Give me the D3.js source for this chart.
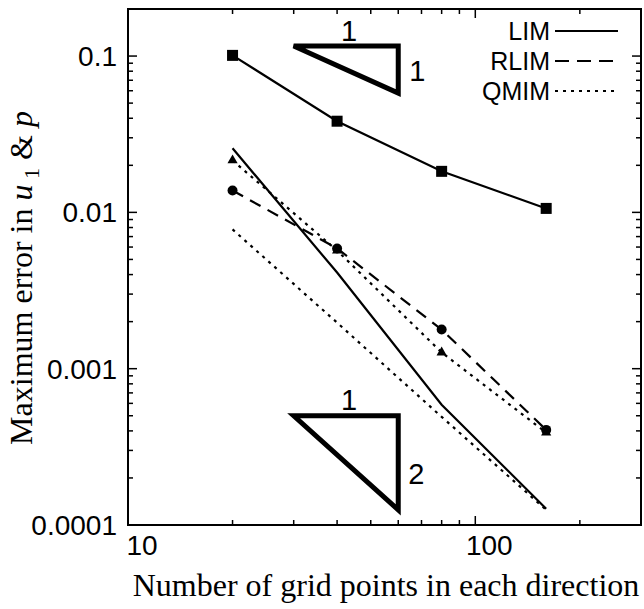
<!DOCTYPE html>
<html lang="en">
<head>
	<meta charset="UTF-8">
	<title>Maximum error convergence</title>
	<script src="https://d3js.org/d3.v7.min.js"></script>
	<style>
		body, html {
			margin: 0;
			padding: 0;
			background: #fff;
			overflow: hidden;
		}
		svg {
			display: block;
		}
		.tick-label {
			font-family: "Liberation Sans", Arial, sans-serif;
			font-size: 28px;
			fill: #000;
		}
		.legend-label {
			font-family: "Liberation Sans", Arial, sans-serif;
			font-size: 25px;
			fill: #000;
			text-anchor: end;
		}
		.slope-label {
			font-family: "Liberation Sans", Arial, sans-serif;
			font-size: 29px;
			fill: #000;
			text-anchor: middle;
		}
		.axis-title {
			font-family: "Liberation Serif", "Times New Roman", serif;
			font-size: 32px;
			fill: #000;
			text-anchor: middle;
		}
	</style>
</head>
<body>
<div id="chart"></div>
	<script>
		// grid sizes and measured errors
		const gridPoints = [20, 40, 80, 160];
		const squareErr = [0.101, 0.0383, 0.0183, 0.0106];
		const limErr = [0.0257, 0.00412, 0.000588, 0.000127];
		const rlimErr = [0.0138, 0.00588, 0.00178, 0.000406];
		const qmimErr = [0.0215, 0.0057, 0.00127, 0.00039];
		const lowerErr = [0.00778, 0.00197, 0.000492, 0.000125];

		const xTickValues = [10, 100];
		const yTickValues = [0.0001, 0.001, 0.01, 0.1];
		const yTickLabels = ["0.0001", "0.001", "0.01", "0.1"];

		// slope triangles: [x0, x1], [yTop, yBottom]
		const slope1 = { xs: [30, 60], ys: [0.116, 0.058], run: "1", rise: "1" };
		const slope2 = { xs: [30, 60], ys: [0.0005, 0.000125], run: "1", rise: "2" };

		const legendNames = ["LIM", "RLIM", "QMIM"];

		const width = 644;
		const height = 609;
		const pLeft = 128, pRight = 641, pTop = 9, pBottom = 525;

		const svg = d3.select("#chart")
			.append("svg")
			.attr("width", width)
			.attr("height", height);

		const x = d3.scaleLog().domain([10, 300]).range([pLeft, pRight]);
		const y = d3.scaleLog().domain([0.0001, 0.2]).range([pBottom, pTop]);

		// minor tick values
		const xMinor = [];
		for (let d = 10; d < 300; d *= 10) {
			for (let k = 2; k <= 9; k++) if (d * k <= 300) xMinor.push(d * k);
		}
		const yMinor = [];
		for (let d = 0.0001; d < 0.2; d *= 10) {
			for (let k = 2; k <= 9; k++) if (d * k <= 0.2) yMinor.push(d * k);
		}

		const ticks = svg.append("g").attr("stroke", "#000").attr("stroke-width", 1.5);
		function drawXTicks(vals, len) {
			vals.forEach(v => {
				ticks.append("line").attr("x1", x(v)).attr("x2", x(v)).attr("y1", pBottom).attr("y2", pBottom - len);
				ticks.append("line").attr("x1", x(v)).attr("x2", x(v)).attr("y1", pTop).attr("y2", pTop + len);
			});
		}
		function drawYTicks(vals, len) {
			vals.forEach(v => {
				ticks.append("line").attr("y1", y(v)).attr("y2", y(v)).attr("x1", pLeft).attr("x2", pLeft + len);
				ticks.append("line").attr("y1", y(v)).attr("y2", y(v)).attr("x1", pRight).attr("x2", pRight - len);
			});
		}
		drawXTicks(xTickValues, 9);
		drawXTicks(xMinor, 5);
		drawYTicks(yTickValues, 9);
		drawYTicks(yMinor, 5);

		// frame
		svg.append("rect")
			.attr("x", pLeft).attr("y", pTop)
			.attr("width", pRight - pLeft).attr("height", pBottom - pTop)
			.attr("fill", "none").attr("stroke", "#000").attr("stroke-width", 2);

		// tick labels
		svg.selectAll(".xlab")
			.data(xTickValues)
			.enter()
			.append("text")
			.attr("class", "tick-label")
			.attr("x", d => x(d) + 14)
			.attr("y", pBottom + 30)
			.attr("text-anchor", "middle")
			.text(d => d);

		svg.selectAll(".ylab")
			.data(yTickValues)
			.enter()
			.append("text")
			.attr("class", "tick-label")
			.attr("x", pLeft - 11)
			.attr("y", d => y(d) + 10)
			.attr("text-anchor", "end")
			.text((d, i) => yTickLabels[i]);

		// axis titles
		svg.append("text")
			.attr("class", "axis-title")
			.attr("x", 386)
			.attr("y", 596)
			.text("Number of grid points in each direction");

		const yt = svg.append("text")
			.attr("class", "axis-title")
			.attr("transform", "translate(32,278) rotate(-90)");
		yt.append("tspan").text("Maximum error in ");
		yt.append("tspan").attr("font-style", "italic").text("u");
		yt.append("tspan").attr("font-size", "22px").attr("dy", 7).text(" 1");
		yt.append("tspan").attr("dy", -7).text(" & ");
		yt.append("tspan").attr("font-style", "italic").text("p");

		// series lines
		const line = d3.line()
			.x((d, i) => x(gridPoints[i]))
			.y(d => y(d));

		const series = [
			{ vals: squareErr, dash: null },
			{ vals: limErr, dash: null },
			{ vals: rlimErr, dash: "12,8" },
			{ vals: qmimErr, dash: "3,5" },
			{ vals: lowerErr, dash: "3,5" }
		];

		svg.selectAll(".series")
			.data(series)
			.enter()
			.append("path")
			.attr("class", "series")
			.attr("d", d => line(d.vals))
			.attr("fill", "none")
			.attr("stroke", "#000")
			.attr("stroke-width", 2.2)
			.attr("stroke-dasharray", d => d.dash);

		// markers
		svg.selectAll(".sq")
			.data(squareErr)
			.enter()
			.append("rect")
			.attr("x", (d, i) => x(gridPoints[i]) - 5.5)
			.attr("y", d => y(d) - 5.5)
			.attr("width", 11).attr("height", 11)
			.attr("fill", "#000");

		svg.selectAll(".circ")
			.data(rlimErr)
			.enter()
			.append("circle")
			.attr("cx", (d, i) => x(gridPoints[i]))
			.attr("cy", d => y(d))
			.attr("r", 5)
			.attr("fill", "#000");

		const tri = d3.symbol().type(d3.symbolTriangle).size(45);
		svg.selectAll(".tri")
			.data(qmimErr)
			.enter()
			.append("path")
			.attr("d", tri)
			.attr("transform", (d, i) => `translate(${x(gridPoints[i])},${y(d)})`)
			.attr("fill", "#000");

		// slope triangles
		function drawSlope(s, runY, riseDx, riseY) {
			const x0 = x(s.xs[0]), x1 = x(s.xs[1]);
			const yt0 = y(s.ys[0]), yb = y(s.ys[1]);
			svg.append("path")
				.attr("d", `M${x0},${yt0}L${x1},${yt0}L${x1},${yb}Z`)
				.attr("fill", "none")
				.attr("stroke", "#000")
				.attr("stroke-width", 5)
				.attr("stroke-linejoin", "miter");
			svg.append("text")
				.attr("class", "slope-label")
				.attr("x", (x0 + x1) / 2 + 3)
				.attr("y", yt0 + runY)
				.text(s.run);
			svg.append("text")
				.attr("class", "slope-label")
				.attr("x", x1 + riseDx)
				.attr("y", (yt0 + yb) / 2 + riseY)
				.text(s.rise);
		}
		drawSlope(slope1, -5, 19, 11);
		drawSlope(slope2, -6, 18, 21);

		// legend
		const legendDash = [null, "14,8", "3,5"];
		legendNames.forEach((name, i) => {
			const ly = 31 + i * 30;
			svg.append("text")
				.attr("class", "legend-label")
				.attr("x", 550)
				.attr("y", ly + 9)
				.text(name);
			svg.append("line")
				.attr("x1", 555).attr("x2", 618)
				.attr("y1", ly).attr("y2", ly)
				.attr("stroke", "#000")
				.attr("stroke-width", 2)
				.attr("stroke-dasharray", legendDash[i]);
		});
	</script>
</body>
</html>
